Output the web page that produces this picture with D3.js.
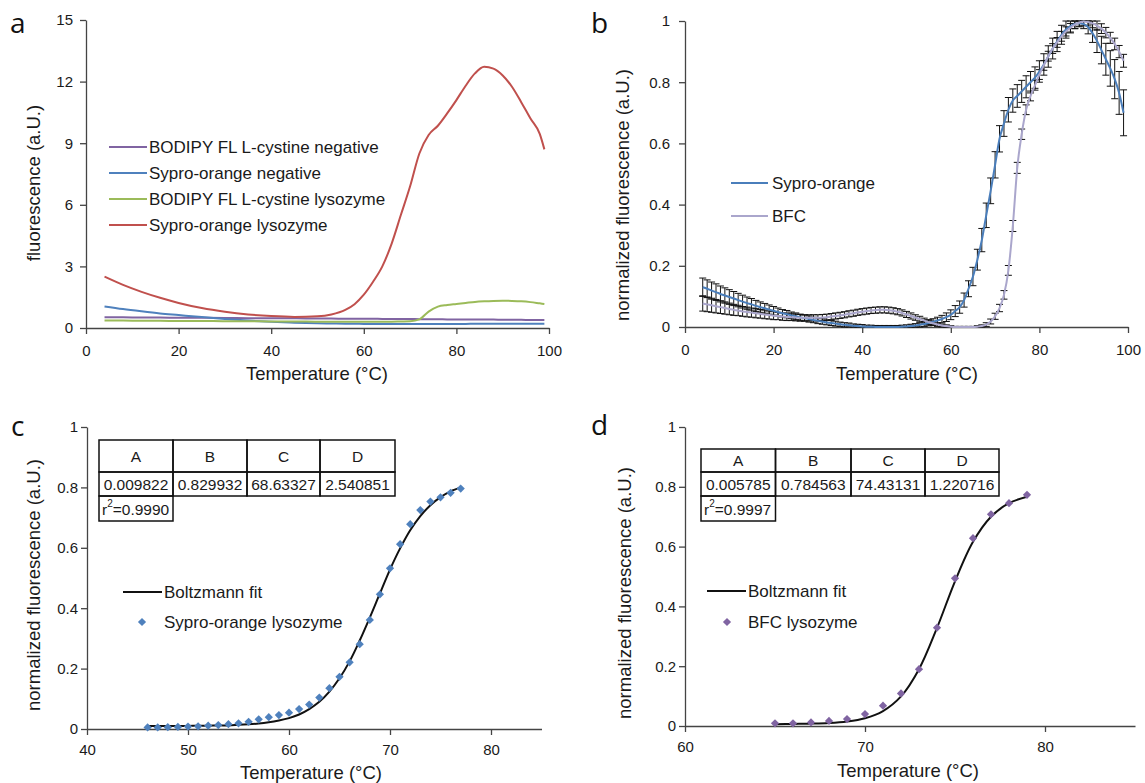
<!DOCTYPE html>
<html>
<head>
<meta charset="utf-8">
<title>thermal shift panels</title>
<script src="https://d3js.org/d3.v7.min.js"></script>
<style>
  body { margin: 0; background: white; }
  text { font-family: "Liberation Sans", Arial, sans-serif; fill: #1a1a1a; }
  .axis path, .axis line { stroke: #444; stroke-width: 1.3px; }
  .axis text { font-size: 15px; fill: #1a1a1a; }
  .title { font-size: 18.5px; }
  .leg { font-size: 17px; }
  .tbl { font-size: 15.5px; }
  .letter { font-family: "Open Sans", "Noto Sans", sans-serif; font-size: 28px; fill: #111; }
  .cell { fill: none; stroke: #111; stroke-width: 1.5px; }
  .err { stroke: #111; stroke-width: 1px; }
</style>
</head>
<body>
<svg id="chart" width="1145" height="783"></svg>
<script>

// ---- panel a : raw fluorescence ----
var aTemp = [4, 8, 12, 16, 20, 25, 30, 35, 40, 45, 50, 53, 56, 58, 60, 62, 64, 66, 68, 70, 72, 74, 76, 78, 80, 82, 84, 86, 88, 90, 92, 94, 96, 98, 99]
var aBodipyNeg = [0.52, 0.52, 0.51, 0.51, 0.50, 0.50, 0.49, 0.48, 0.47, 0.47, 0.46, 0.46, 0.45, 0.45, 0.45, 0.45, 0.44, 0.44, 0.44, 0.44, 0.43, 0.43, 0.43, 0.42, 0.42, 0.42, 0.41, 0.41, 0.41, 0.40, 0.40, 0.40, 0.39, 0.39, 0.39]
var aSyproNeg = [1.05, 0.92, 0.81, 0.71, 0.63, 0.53, 0.44, 0.36, 0.30, 0.26, 0.23, 0.22, 0.21, 0.21, 0.20, 0.20, 0.20, 0.20, 0.20, 0.20, 0.20, 0.20, 0.20, 0.20, 0.20, 0.20, 0.21, 0.21, 0.21, 0.21, 0.21, 0.21, 0.21, 0.21, 0.21]
var aBodipyLys = [0.36, 0.36, 0.35, 0.35, 0.34, 0.34, 0.33, 0.33, 0.32, 0.32, 0.31, 0.31, 0.31, 0.31, 0.31, 0.31, 0.31, 0.31, 0.32, 0.33, 0.42, 0.80, 1.04, 1.12, 1.17, 1.22, 1.27, 1.30, 1.32, 1.33, 1.32, 1.30, 1.26, 1.20, 1.17]
var aSyproLys = [2.50, 2.10, 1.76, 1.47, 1.22, 0.97, 0.79, 0.66, 0.58, 0.54, 0.57, 0.66, 0.88, 1.16, 1.62, 2.25, 3.00, 4.10, 5.50, 6.90, 8.50, 9.40, 9.85, 10.45, 11.10, 11.80, 12.40, 12.72, 12.63, 12.30, 11.75, 11.00, 10.20, 9.45, 8.70]
var aNames = ['BODIPY FL L-cystine negative', 'Sypro-orange negative', 'BODIPY FL L-cystine lysozyme', 'Sypro-orange lysozyme']
var aColors = ['#8064a2', '#4f81bd', '#9bbb59', '#c0504d']
var aXTicks = [0, 20, 40, 60, 80, 100]
var aYTicks = [0, 3, 6, 9, 12, 15]

// ---- panel b : normalized, mean +/- error ----
var bTemp = [4, 5, 6, 7, 8, 9, 10, 11, 12, 13, 14, 15, 16, 17, 18, 19, 20, 21, 22, 23, 24, 25, 26, 27, 28, 29, 30, 31, 32, 33, 34, 35, 36, 37, 38, 39, 40, 41, 42, 43, 44, 45, 46, 47, 48, 49, 50, 51, 52, 53, 54, 55, 56, 57, 58, 59, 60, 61, 62, 63, 64, 65, 66, 67, 68, 69, 70, 71, 72, 73, 74, 75, 76, 77, 78, 79, 80, 81, 82, 83, 84, 85, 86, 87, 88, 89, 90, 91, 92, 93, 94, 95, 96, 97, 98, 99]
var bSypro = [0.130, 0.125, 0.119, 0.114, 0.108, 0.103, 0.098, 0.093, 0.088, 0.083,
  0.078, 0.074, 0.069, 0.065, 0.061, 0.057, 0.053, 0.049, 0.045, 0.042,
  0.038, 0.035, 0.032, 0.029, 0.026, 0.023, 0.020, 0.018, 0.015, 0.013,
  0.011, 0.009, 0.007, 0.006, 0.004, 0.003, 0.002, 0.001, 0.001, 0.000,
  0.000, 0.000, 0.000, 0.000, 0.000, 0.001, 0.002, 0.003, 0.005, 0.007,
  0.010, 0.013, 0.017, 0.021, 0.026, 0.032, 0.040, 0.052, 0.065, 0.088,
  0.125, 0.165, 0.220, 0.284, 0.365, 0.445, 0.530, 0.615, 0.665, 0.710,
  0.740, 0.755, 0.770, 0.785, 0.800, 0.815, 0.835, 0.858, 0.884, 0.910,
  0.933, 0.955, 0.972, 0.983, 0.990, 0.993, 0.990, 0.980, 0.960, 0.935,
  0.905, 0.875, 0.845, 0.810, 0.765, 0.700]
var bSyproErr = [0.030, 0.029, 0.028, 0.027, 0.026, 0.025, 0.024, 0.023, 0.022, 0.021,
  0.020, 0.019, 0.018, 0.017, 0.016, 0.015, 0.014, 0.013, 0.012, 0.012,
  0.011, 0.011, 0.010, 0.010, 0.010, 0.009, 0.009, 0.009, 0.008, 0.008,
  0.008, 0.007, 0.007, 0.007, 0.006, 0.006, 0.006, 0.005, 0.005, 0.005,
  0.005, 0.005, 0.005, 0.005, 0.005, 0.005, 0.005, 0.006, 0.006, 0.007,
  0.008, 0.009, 0.010, 0.011, 0.012, 0.014, 0.016, 0.018, 0.020, 0.023,
  0.026, 0.030, 0.034, 0.038, 0.040, 0.042, 0.043, 0.043, 0.042, 0.040,
  0.038, 0.037, 0.036, 0.036, 0.035, 0.035, 0.035, 0.035, 0.035, 0.034,
  0.033, 0.031, 0.028, 0.022, 0.015, 0.012, 0.015, 0.022, 0.030, 0.038,
  0.045, 0.052, 0.058, 0.064, 0.070, 0.075]
var bBfc = [0.077, 0.074, 0.071, 0.068, 0.065, 0.062, 0.059, 0.056, 0.054, 0.051,
  0.049, 0.047, 0.045, 0.043, 0.041, 0.039, 0.037, 0.036, 0.034, 0.033,
  0.032, 0.031, 0.030, 0.030, 0.030, 0.030, 0.030, 0.031, 0.032, 0.034,
  0.036, 0.038, 0.040, 0.043, 0.045, 0.048, 0.050, 0.052, 0.054, 0.055,
  0.056, 0.056, 0.055, 0.053, 0.050, 0.046, 0.041, 0.036, 0.031, 0.026,
  0.021, 0.016, 0.012, 0.008, 0.005, 0.003, 0.001, 0.000, 0.000, 0.000,
  0.000, 0.000, 0.001, 0.003, 0.008, 0.018, 0.035, 0.062, 0.105, 0.185,
  0.330, 0.520, 0.630, 0.710, 0.755, 0.790, 0.825, 0.855, 0.885, 0.910,
  0.930, 0.950, 0.966, 0.978, 0.988, 0.995, 0.998, 0.997, 0.992, 0.985,
  0.975, 0.962, 0.945, 0.925, 0.900, 0.870]
var bBfcErr = [0.025, 0.024, 0.023, 0.022, 0.021, 0.020, 0.019, 0.018, 0.017, 0.016,
  0.016, 0.015, 0.015, 0.014, 0.014, 0.013, 0.013, 0.012, 0.012, 0.012,
  0.011, 0.011, 0.011, 0.010, 0.010, 0.010, 0.010, 0.010, 0.010, 0.010,
  0.010, 0.010, 0.010, 0.010, 0.010, 0.010, 0.010, 0.010, 0.010, 0.010,
  0.010, 0.010, 0.010, 0.010, 0.010, 0.010, 0.010, 0.010, 0.009, 0.009,
  0.008, 0.008, 0.007, 0.006, 0.005, 0.004, 0.003, 0.002, 0.002, 0.002,
  0.002, 0.002, 0.003, 0.004, 0.006, 0.008, 0.010, 0.012, 0.014, 0.016,
  0.018, 0.018, 0.017, 0.016, 0.016, 0.016, 0.016, 0.016, 0.016, 0.016,
  0.016, 0.016, 0.015, 0.014, 0.013, 0.012, 0.012, 0.013, 0.014, 0.015,
  0.016, 0.017, 0.018, 0.019, 0.020, 0.021]
var bNames = ['Sypro-orange', 'BFC']
var bColors = ['#4a7ebb', '#aaa6cc']
var normTicks = [0, 0.2, 0.4, 0.6, 0.8, 1]

// ---- panel c : Sypro-orange Boltzmann fit ----
var cTemp = [46, 47, 48, 49, 50, 51, 52, 53, 54, 55, 56, 57, 58, 59, 60, 61, 62, 63, 64, 65, 66, 67, 68, 69, 70, 71, 72, 73, 74, 75, 76, 77]
var cObs = [0.005, 0.005, 0.006, 0.007, 0.008, 0.009, 0.011, 0.013, 0.016, 0.019, 0.024, 0.032, 0.039, 0.046, 0.054, 0.066, 0.081, 0.104, 0.135, 0.173, 0.221, 0.281, 0.361, 0.446, 0.532, 0.612, 0.678, 0.725, 0.753, 0.767, 0.782, 0.796]
var cFit = [0.010, 0.010, 0.010, 0.010, 0.010, 0.011, 0.011, 0.012, 0.012, 0.014, 0.016, 0.018, 0.022, 0.028, 0.036, 0.048, 0.066, 0.090, 0.124, 0.168, 0.224, 0.293, 0.369, 0.449, 0.528, 0.598, 0.658, 0.705, 0.741, 0.768, 0.787, 0.800]
var cHead = ['A', 'B', 'C', 'D']
var cParams = ['0.009822', '0.829932', '68.63327', '2.540851']
var cR2 = '0.9990'
var cXTicks = [40, 50, 60, 70, 80]

// ---- panel d : BFC Boltzmann fit ----
var dTemp = [65, 66, 67, 68, 69, 70, 71, 72, 73, 74, 75, 76, 77, 78, 79]
var dObs = [0.009, 0.009, 0.012, 0.017, 0.023, 0.040, 0.068, 0.109, 0.190, 0.329, 0.494, 0.628, 0.708, 0.745, 0.773]
var dFit = [0.006, 0.007, 0.008, 0.010, 0.015, 0.026, 0.050, 0.099, 0.190, 0.328, 0.484, 0.616, 0.700, 0.745, 0.767]
var dHead = ['A', 'B', 'C', 'D']
var dParams = ['0.005785', '0.784563', '74.43131', '1.220716']
var dR2 = '0.9997'
var dXTicks = [60, 70, 80]


var svg = d3.select('#chart')
svg.append('rect').attr('width', 1145).attr('height', 783).attr('fill', 'white')

function axes(x, y, xTicks, yTicks, xPad, yPad) {
  var gx = svg.append('g').attr('class', 'axis')
    .attr('transform', 'translate(0,' + y.range()[0] + ')')
    .call(d3.axisBottom(x).tickValues(xTicks).tickSize(6).tickSizeOuter(0).tickPadding(xPad))
  var gy = svg.append('g').attr('class', 'axis')
    .attr('transform', 'translate(' + x.range()[0] + ',0)')
    .call(d3.axisLeft(y).tickValues(yTicks).tickSize(6).tickSizeOuter(0).tickPadding(yPad).tickFormat(d3.format('')))
  gx.attr('font-size', null).attr('font-family', null)
  gy.attr('font-size', null).attr('font-family', null)
}

function labels(letter, lx, ly, xl, yl) {
  svg.append('text').attr('class', 'letter').attr('x', lx).attr('y', ly).text(letter)
  svg.append('text').attr('class', 'title').attr('x', xl[0]).attr('y', xl[1])
    .attr('text-anchor', 'middle').attr('dominant-baseline', 'central').text('Temperature (°C)')
  svg.append('text').attr('class', 'title')
    .attr('transform', 'translate(' + yl[0] + ',' + yl[1] + ') rotate(-90)')
    .attr('text-anchor', 'middle').attr('dominant-baseline', 'central').text(yl[2])
}

function diamond(sel, color) {
  sel.attr('d', d3.symbol(d3.symbolSquare, 34)).style('fill', color)
}

function table(x0, cols, rows, head, params, r2) {
  var g = svg.append('g')
  // header + values, 4 cells each
  head.forEach((h, i) => {
    g.append('rect').attr('class', 'cell').attr('x', cols[i]).attr('y', rows[0])
      .attr('width', cols[i + 1] - cols[i]).attr('height', rows[1] - rows[0])
    g.append('rect').attr('class', 'cell').attr('x', cols[i]).attr('y', rows[1])
      .attr('width', cols[i + 1] - cols[i]).attr('height', rows[2] - rows[1])
    g.append('text').attr('class', 'tbl').attr('x', (cols[i] + cols[i + 1]) / 2).attr('y', (rows[0] + rows[1]) / 2)
      .attr('text-anchor', 'middle').attr('dominant-baseline', 'central').text(h)
    g.append('text').attr('class', 'tbl').attr('x', (cols[i] + cols[i + 1]) / 2).attr('y', (rows[1] + rows[2]) / 2)
      .attr('text-anchor', 'middle').attr('dominant-baseline', 'central').text(params[i])
  })
  g.append('rect').attr('class', 'cell').attr('x', cols[0]).attr('y', rows[2])
    .attr('width', cols[1] - cols[0]).attr('height', rows[3] - rows[2])
  var t = g.append('text').attr('class', 'tbl').attr('x', cols[0] + 3).attr('y', (rows[2] + rows[3]) / 2)
    .attr('dominant-baseline', 'central')
  t.append('tspan').text('r')
  t.append('tspan').attr('font-size', '10px').attr('dy', '-6').text('2')
  t.append('tspan').attr('dy', '6').text('=' + r2)
}

// ================= panel a =================
var xa = d3.scaleLinear().domain([0, 100]).range([86, 549])
var ya = d3.scaleLinear().domain([0, 15]).range([328, 20])
axes(xa, ya, aXTicks, aYTicks, 11, 7)
labels('a', 10, 33, [317, 373], [33, 183, 'fluorescence (a.U.)'])

var aSeries = [aBodipyNeg, aSyproNeg, aBodipyLys, aSyproLys]
var aLine = d3.line().curve(d3.curveMonotoneX)
  .x((d, i) => xa(aTemp[i]))
  .y(d => ya(d))
aSeries.forEach((s, k) => {
  svg.append('path').datum(s).attr('d', aLine)
    .style('fill', 'none').style('stroke', aColors[k]).style('stroke-width', 2)
})
aNames.forEach((n, k) => {
  var yy = 147 + k * 26
  svg.append('line').attr('x1', 109).attr('x2', 147).attr('y1', yy).attr('y2', yy)
    .style('stroke', aColors[k]).style('stroke-width', 2)
  svg.append('text').attr('class', 'leg').attr('x', 149).attr('y', yy)
    .attr('dominant-baseline', 'central').text(n)
})

// ================= panel b =================
var xb = d3.scaleLinear().domain([0, 100]).range([685, 1128])
var yb = d3.scaleLinear().domain([0, 1]).range([327, 21])
axes(xb, yb, aXTicks, normTicks, 11, 9)
labels('b', 591, 33, [907, 373], [622, 195, 'normalized fluorescence (a.U.)'])

var bMeans = [bSypro, bBfc]
var bErrs = [bSyproErr, bBfcErr]
bMeans.forEach((m, k) => {
  var eg = svg.append('g')
  bTemp.forEach((t, i) => {
    var cx = xb(t)
    var top = yb(Math.min(1, m[i] + bErrs[k][i]))
    var bot = yb(Math.max(0, m[i] - bErrs[k][i]))
    eg.append('line').attr('class', 'err').attr('x1', cx).attr('x2', cx).attr('y1', top).attr('y2', bot)
    eg.append('line').attr('class', 'err').attr('x1', cx - 3.5).attr('x2', cx + 3.5).attr('y1', top).attr('y2', top)
    eg.append('line').attr('class', 'err').attr('x1', cx - 3.5).attr('x2', cx + 3.5).attr('y1', bot).attr('y2', bot)
  })
})
var bLine = d3.line().curve(d3.curveMonotoneX)
  .x((d, i) => xb(bTemp[i]))
  .y(d => yb(d))
bMeans.forEach((m, k) => {
  svg.append('path').datum(m).attr('d', bLine)
    .style('fill', 'none').style('stroke', bColors[k]).style('stroke-width', 2)
})
bNames.forEach((n, k) => {
  var yy = 183 + k * 33
  svg.append('line').attr('x1', 731).attr('x2', 768).attr('y1', yy).attr('y2', yy)
    .style('stroke', bColors[k]).style('stroke-width', 2)
  svg.append('text').attr('class', 'leg').attr('x', 772).attr('y', yy)
    .attr('dominant-baseline', 'central').text(n)
})

// ================= panel c =================
var xc = d3.scaleLinear().domain([40, 85]).range([87, 541.5])
var yc = d3.scaleLinear().domain([0, 1]).range([729, 427])
axes(xc, yc, cXTicks, normTicks, 9, 3)
labels('c', 11, 436, [311, 772], [33, 585, 'normalized fluorescence (a.U.)'])
table(99, [99, 173, 247, 320, 395], [440, 472, 496, 521], cHead, cParams, cR2)

var cLine = d3.line().curve(d3.curveCatmullRom)
  .x((d, i) => xc(cTemp[i]))
  .y(d => yc(d))
svg.append('path').datum(cFit).attr('d', cLine)
  .style('fill', 'none').style('stroke', '#111').style('stroke-width', 2)
svg.selectAll('.cDot').data(cObs).enter().append('path').attr('class', 'cDot')
  .attr('transform', (d, i) => 'translate(' + xc(cTemp[i]) + ',' + yc(d) + ') rotate(45)')
  .call(diamond, '#4f81bd')

svg.append('line').attr('x1', 123).attr('x2', 162).attr('y1', 592).attr('y2', 592)
  .style('stroke', '#111').style('stroke-width', 2)
svg.append('text').attr('class', 'leg').attr('x', 164).attr('y', 592).attr('dominant-baseline', 'central').text('Boltzmann fit')
svg.append('path').attr('transform', 'translate(142,622) rotate(45)').call(diamond, '#4f81bd')
svg.append('text').attr('class', 'leg').attr('x', 164).attr('y', 622).attr('dominant-baseline', 'central').text('Sypro-orange lysozyme')

// ================= panel d =================
var xd = d3.scaleLinear().domain([60, 85]).range([685, 1135])
var yd = d3.scaleLinear().domain([0, 1]).range([726, 427])
axes(xd, yd, dXTicks, normTicks, 9, 3)
labels('d', 591, 435, [908, 770], [624, 593, 'normalized fluorescence (a.U.)'])
table(701, [701, 775.5, 851, 925, 999], [449, 472, 496, 521], dHead, dParams, dR2)

var dLine = d3.line().curve(d3.curveCatmullRom)
  .x((d, i) => xd(dTemp[i]))
  .y(d => yd(d))
svg.append('path').datum(dFit).attr('d', dLine)
  .style('fill', 'none').style('stroke', '#111').style('stroke-width', 2)
svg.selectAll('.dDot').data(dObs).enter().append('path').attr('class', 'dDot')
  .attr('transform', (d, i) => 'translate(' + xd(dTemp[i]) + ',' + yd(d) + ') rotate(45)')
  .call(diamond, '#8064a2')

svg.append('line').attr('x1', 707).attr('x2', 746).attr('y1', 591).attr('y2', 591)
  .style('stroke', '#111').style('stroke-width', 2)
svg.append('text').attr('class', 'leg').attr('x', 748).attr('y', 591).attr('dominant-baseline', 'central').text('Boltzmann fit')
svg.append('path').attr('transform', 'translate(727,622) rotate(45)').call(diamond, '#8064a2')
svg.append('text').attr('class', 'leg').attr('x', 748).attr('y', 622).attr('dominant-baseline', 'central').text('BFC lysozyme')

</script>
</body>
</html>
